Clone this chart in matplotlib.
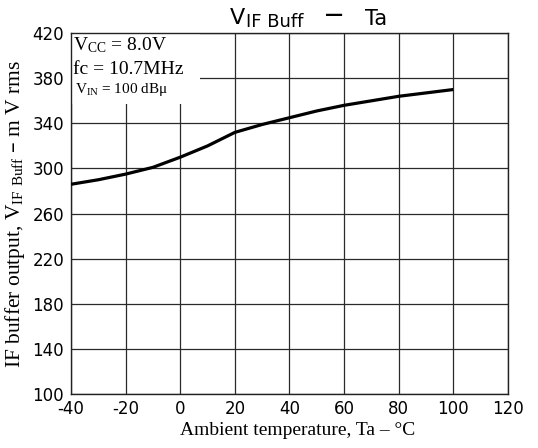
import matplotlib
matplotlib.use("Agg")
import matplotlib.pyplot as plt
import numpy as np

plt.rcParams['mathtext.default'] = 'regular'

temps = [-40, -30, -20, -10, 0, 10, 20, 30, 40, 50, 60, 70, 80, 90, 100]
vout = [286, 290, 295, 301, 310, 320, 332, 339, 345, 351, 356, 360, 364, 367, 370]
xticks = [-40, -20, 0, 20, 40, 60, 80, 100, 120]
yticks = [100, 140, 180, 220, 260, 300, 340, 380, 420]

W, H = 538, 448
fig = plt.figure(figsize=(W / 100, H / 100), dpi=100)
ax = fig.add_axes([0.132, 0.1205, 0.812, 0.8055])
ax.set_xlim(-40, 120)
ax.set_ylim(100, 420)
ax.set_xticks(xticks)
ax.set_yticks(yticks)
ax.set_xticklabels([str(t) for t in xticks], fontsize=12, family='DejaVu Sans')
ax.set_yticklabels([str(t) for t in yticks], fontsize=12, family='DejaVu Sans')
ax.tick_params(length=0)
ax.tick_params(axis='x', pad=4)
ax.tick_params(axis='y', pad=5)
ax.grid(True, color='#2a2a2a', linewidth=0.9, zorder=1)
for s in ax.spines.values():
    s.set_linewidth(1.0)
    s.set_color('#222222')

ax.plot(temps, vout, color='black', linewidth=2.3, zorder=3, solid_capstyle='butt')

# white box behind condition text
ax.add_patch(plt.Rectangle((-40, 357), 47.4, 63, facecolor='white', edgecolor='none', zorder=2))
ax.text(-39.3, 409, "V$_{CC}$ = 8.0V", fontsize=14, family='Liberation Serif',
        ha='left', va='center', zorder=4)
ax.text(-39.3, 387.5, "fc = 10.7MHz", fontsize=14, family='Liberation Serif',
        ha='left', va='center', zorder=4)
ax.text(-38.5, 370, "$V_{IN}$ = 100 dBμ", fontsize=11, family='Liberation Serif',
        ha='left', va='center', zorder=4)

# title pieces
fig.text(230 / W, 1 - 24 / H, "V", fontsize=16, family='DejaVu Sans', va='baseline', ha='left')
fig.text(246 / W, 1 - 27 / H, "IF Buff", fontsize=13, family='DejaVu Sans', va='baseline', ha='left')
fig.text(334 / W, 1 - 15 / H, "—", fontsize=13, family='DejaVu Sans', fontweight='bold',
         va='center', ha='center')
fig.text(387 / W, 1 - 25 / H, "Ta", fontsize=15, family='DejaVu Sans', va='baseline', ha='right')

ax.set_xlabel("Ambient temperature, Ta – °C", fontsize=14, family='Liberation Serif', labelpad=2)
ax.xaxis.set_label_coords(0.518, -0.078)
ax.set_ylabel("IF buffer output, V$_{IF\\ Buff}$ – m V rms", fontsize=15.5,
              family='Liberation Serif', labelpad=4)

fig.savefig("out.png", dpi=100)
